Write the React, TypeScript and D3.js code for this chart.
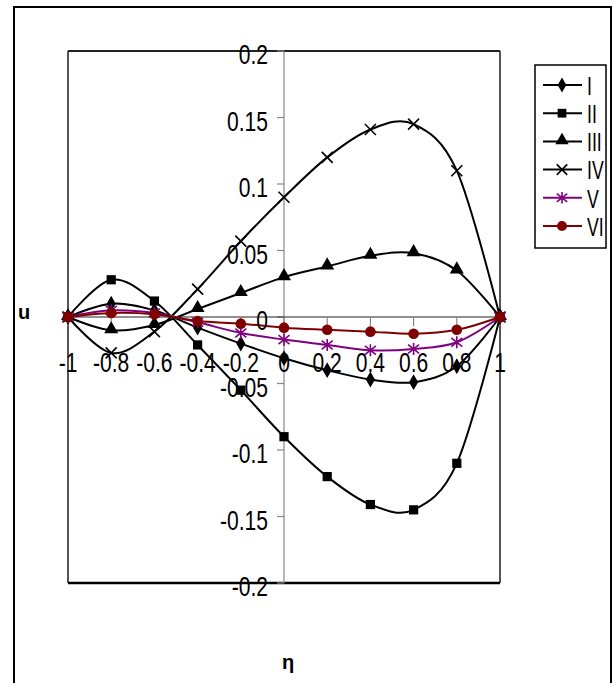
import React from "react";
import * as d3 from "d3";

// Positions along the channel
const etaValues = [-1, -0.8, -0.6, -0.4, -0.2, 0, 0.2, 0.4, 0.6, 0.8, 1];

// Velocity profiles u(η) for the six cases
const seriesI = [0, 0.010, 0.005, -0.008, -0.020, -0.031, -0.040, -0.047, -0.049, -0.037, 0];
const seriesII = [0, 0.028, 0.012, -0.021, -0.055, -0.090, -0.120, -0.141, -0.145, -0.110, 0];
const seriesIII = [0, -0.010, -0.006, 0.006, 0.018, 0.030, 0.038, 0.046, 0.048, 0.035, 0];
const seriesIV = [0, -0.027, -0.011, 0.021, 0.057, 0.090, 0.120, 0.141, 0.145, 0.110, 0];
const seriesV = [0, 0.005, 0.003, -0.004, -0.012, -0.017, -0.021, -0.025, -0.024, -0.019, 0];
const seriesVI = [0, 0.003, 0.002, -0.003, -0.005, -0.008, -0.0096, -0.011, -0.0126, -0.0096, 0];

const seriesNames = ["I", "II", "III", "IV", "V", "VI"];
const xTickValues = [-1, -0.8, -0.6, -0.4, -0.2, 0, 0.2, 0.4, 0.6, 0.8, 1];
const yTickValues = [0.2, 0.15, 0.1, 0.05, 0, -0.05, -0.1, -0.15, -0.2];

type MarkerKind = "diamond" | "square" | "triangle" | "x" | "star" | "circle";

const seriesStyle: { color: string; marker: MarkerKind }[] = [
  { color: "#000000", marker: "diamond" },
  { color: "#000000", marker: "square" },
  { color: "#000000", marker: "triangle" },
  { color: "#000000", marker: "x" },
  { color: "#800080", marker: "star" },
  { color: "#800000", marker: "circle" },
];

const W = 614;
const H = 683;
const plot = { left: 68, right: 500, top: 51, bottom: 583 };
const FONT = "'Liberation Sans', Arial, sans-serif";

function Marker({ kind, x, y, color, s = 1 }: { kind: MarkerKind; x: number; y: number; color: string; s?: number }) {
  const t = `translate(${x},${y})`;
  if (kind === "diamond") {
    const p = d3.symbol(d3.symbolDiamond, 72 * s)();
    return <path d={p || ""} transform={t} fill={color} />;
  }
  if (kind === "square") {
    const p = d3.symbol(d3.symbolSquare, 85 * s)();
    return <path d={p || ""} transform={t} fill={color} />;
  }
  if (kind === "triangle") {
    const p = d3.symbol(d3.symbolTriangle, 85 * s)();
    return <path d={p || ""} transform={`${t} translate(0,-1)`} fill={color} />;
  }
  if (kind === "circle") {
    return <circle cx={x} cy={y} r={5.3 * Math.sqrt(s)} fill={color} />;
  }
  const r = 5.5 * Math.sqrt(s);
  if (kind === "x") {
    return (
      <path
        d={`M${-r},${-r}L${r},${r}M${-r},${r}L${r},${-r}`}
        transform={t}
        stroke={color}
        strokeWidth={1.6}
        fill="none"
      />
    );
  }
  // asterisk: diagonal cross plus a vertical stroke
  return (
    <path
      d={`M${-r},${-r * 0.8}L${r},${r * 0.8}M${-r},${r * 0.8}L${r},${-r * 0.8}M0,${-r * 1.1}L0,${r * 1.1}`}
      transform={t}
      stroke={color}
      strokeWidth={1.6}
      fill="none"
    />
  );
}

// Condensed label: the glyphs are squeezed horizontally around the anchor point
function NarrowText({
  x,
  y,
  anchor,
  size = 27,
  squeeze = 0.78,
  children,
}: {
  x: number;
  y: number;
  anchor: "start" | "middle" | "end";
  size?: number;
  squeeze?: number;
  children: React.ReactNode;
}) {
  return (
    <text
      transform={`translate(${x},${y}) scale(${squeeze},1)`}
      textAnchor={anchor}
      dominantBaseline="central"
      fontSize={size}
    >
      {children}
    </text>
  );
}

export default function App() {
  const x = d3.scaleLinear().domain([-1, 1]).range([plot.left, plot.right]);
  const y = d3.scaleLinear().domain([-0.2, 0.2]).range([plot.bottom, plot.top]);

  const allSeries = [seriesI, seriesII, seriesIII, seriesIV, seriesV, seriesVI];

  const line = d3
    .line<number>()
    .x((_, i) => x(etaValues[i]))
    .y((d) => y(d))
    .curve(d3.curveCardinal.tension(0));

  const x0 = x(0);
  const y0 = y(0);

  const fmt = (v: number) => (v === 0 ? "0" : String(v));

  const legend = { left: 535, top: 65, right: 606, bottom: 248, rowY0: 85, rowStep: 28.2 };

  return (
    <svg
      width={W}
      height={H}
      style={{ position: "absolute", left: 0, top: 0, background: "#fff" }}
      fontFamily={FONT}
    >
      <rect x={0} y={0} width={W} height={H} fill="#fff" />
      {/* chart frame */}
      <rect x={14} y={7} width={597} height={H + 10} fill="none" stroke="#000" strokeWidth={2} />

      {/* plot area border */}
      <line x1={plot.left} x2={plot.left} y1={plot.top} y2={plot.bottom} stroke="#555" strokeWidth={2} />
      <line x1={plot.right} x2={plot.right} y1={plot.top} y2={plot.bottom} stroke="#555" strokeWidth={2} />
      <line x1={plot.left} x2={plot.right} y1={plot.top} y2={plot.top} stroke="#222" strokeWidth={2} />
      <line x1={plot.left} x2={plot.right} y1={plot.bottom} y2={plot.bottom} stroke="#000" strokeWidth={2.5} />

      {/* vertical axis through η = 0 */}
      <line x1={x0} x2={x0} y1={plot.top} y2={plot.bottom} stroke="#888" strokeWidth={1.2} />
      {yTickValues.map((v) => (
        <line key={`yt${v}`} x1={x0 - 7} x2={x0} y1={y(v)} y2={y(v)} stroke="#888" strokeWidth={1.2} />
      ))}

      {/* horizontal axis through u = 0 */}
      <line x1={plot.left} x2={plot.right} y1={y0} y2={y0} stroke="#222" strokeWidth={1.2} />
      {xTickValues.map((v) => (
        <line key={`xt${v}`} x1={x(v)} x2={x(v)} y1={y0} y2={y0 + 9} stroke="#888" strokeWidth={1.2} />
      ))}

      {/* series */}
      {allSeries.map((data, si) => (
        <g key={seriesNames[si]}>
          <path d={line(data) || ""} fill="none" stroke={seriesStyle[si].color} strokeWidth={2} />
          {data.map((v, i) => (
            <Marker key={i} kind={seriesStyle[si].marker} x={x(etaValues[i])} y={y(v)} color={seriesStyle[si].color} />
          ))}
        </g>
      ))}

      {/* y tick labels */}
      {yTickValues.map((v) => (
        <NarrowText key={`yl${v}`} x={x0 - 16} y={y(v) + 4} anchor="end">
          {fmt(v)}
        </NarrowText>
      ))}

      {/* x tick labels */}
      {xTickValues.map((v) => (
        <NarrowText key={`xl${v}`} x={x(v)} y={y0 + 46} anchor="middle">
          {fmt(v)}
        </NarrowText>
      ))}

      {/* axis titles */}
      <text x={24} y={312} textAnchor="middle" dominantBaseline="central" fontSize={20} fontWeight="bold">
        u
      </text>
      <text x={288} y={662} textAnchor="middle" dominantBaseline="central" fontSize={20} fontWeight="bold">
        η
      </text>

      {/* legend */}
      <rect
        x={legend.left}
        y={legend.top}
        width={legend.right - legend.left}
        height={legend.bottom - legend.top}
        fill="#fff"
        stroke="#000"
        strokeWidth={1.5}
      />
      {seriesNames.map((name, i) => {
        const ry = legend.rowY0 + i * legend.rowStep;
        return (
          <g key={`lg${name}`}>
            <line x1={543} x2={582} y1={ry} y2={ry} stroke={seriesStyle[i].color} strokeWidth={2} />
            <Marker kind={seriesStyle[i].marker} x={562} y={ry} color={seriesStyle[i].color} s={0.9} />
            <NarrowText x={587} y={ry + 1} anchor="start" size={26} squeeze={0.68}>
              {name}
            </NarrowText>
          </g>
        );
      })}
    </svg>
  );
}
